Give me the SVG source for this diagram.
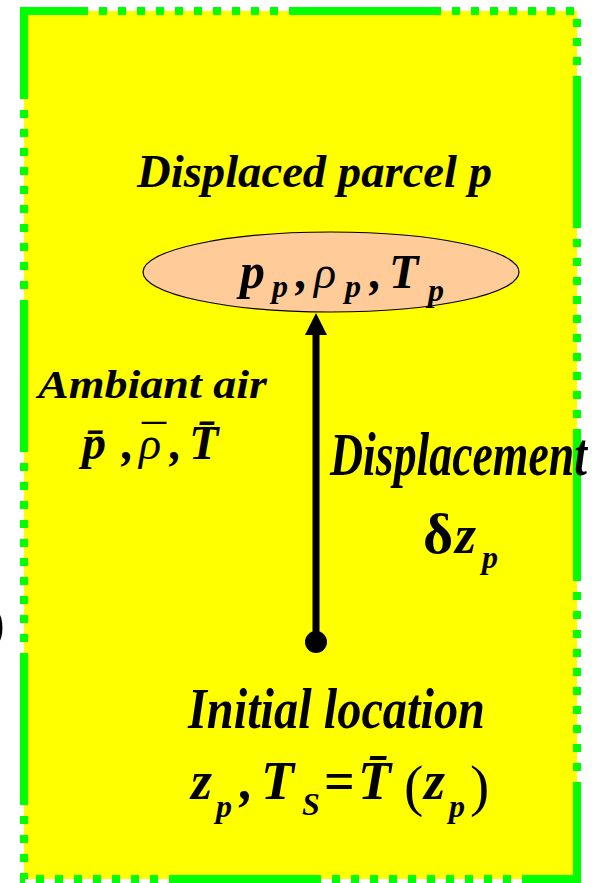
<svg xmlns="http://www.w3.org/2000/svg" width="604" height="883" viewBox="0 0 604 883">
<style>
.t{font-family:"Liberation Serif","Times New Roman",serif;font-weight:bold;font-style:italic;fill:#000}
.g{font-family:"Liberation Serif","DejaVu Serif",serif;font-weight:normal;font-style:italic;fill:#000}
.u{font-family:"Liberation Serif","DejaVu Serif",serif;font-weight:normal;font-style:normal;fill:#000}
.ub{font-family:"Liberation Serif","DejaVu Serif",serif;font-weight:bold;font-style:normal;fill:#000}
</style>
<rect x="0" y="0" width="604" height="883" fill="#fff"/>
<g id="frame">
<rect x="24" y="11" width="553" height="868" fill="#ffff00"/>
<path d="M24,879 V11 H577 V879 Z" fill="none" stroke="#00ff00" stroke-width="8" stroke-linecap="butt" stroke-dasharray="152 11 8 11 8 11 8 11 8 11 8 11 8 11 8 11 8 11 8 11 8 11" stroke-dashoffset="279"/>
</g>
<g id="parcel">
<text class="t" x="137" y="187" font-size="47" textLength="355" lengthAdjust="spacingAndGlyphs">Displaced parcel p</text>
<ellipse cx="331" cy="272" rx="188" ry="40" fill="#ffcc99" stroke="#000" stroke-width="1.2"/>
<text class="t"><tspan x="240" y="288" font-size="50">p</tspan><tspan x="272" y="297" font-size="32">p</tspan><tspan x="296" y="288" font-size="48">,</tspan><tspan class="g" x="314" y="288" font-size="46">ρ</tspan><tspan x="345" y="297" font-size="32">p</tspan><tspan x="370" y="288" font-size="48">,</tspan><tspan x="389" y="288" font-size="48">T</tspan><tspan x="428" y="301" font-size="32">p</tspan></text>
</g>
<g id="ambient">
<text class="t" x="38" y="398" font-size="41" textLength="229" lengthAdjust="spacingAndGlyphs">Ambiant air</text>
<text class="t" font-size="48"><tspan x="82" y="459">p̄</tspan><tspan x="122" y="459">,</tspan><tspan class="g" x="139" y="459" font-size="46">ρ</tspan><tspan class="u" x="142" y="459" font-size="48">¯</tspan><tspan x="170" y="459">,</tspan><tspan x="189" y="459">T̄</tspan></text>
</g>
<g id="displacement">
<text class="t" x="330" y="475" font-size="61" textLength="257" lengthAdjust="spacingAndGlyphs">Displacement</text>
<text class="t"><tspan class="ub" x="423" y="553" font-size="58">δ</tspan><tspan x="455" y="553" font-size="54">z</tspan><tspan x="482" y="568" font-size="32">p</tspan></text>
</g>
<g id="initial">
<text class="t" x="188" y="728" font-size="56" textLength="297" lengthAdjust="spacingAndGlyphs">Initial location</text>
<text class="t"><tspan x="191" y="799" font-size="54">z</tspan><tspan x="216" y="817" font-size="32">p</tspan><tspan x="240" y="799" font-size="54">,</tspan><tspan x="261" y="799" font-size="54">T</tspan><tspan x="302" y="815" font-size="32">S</tspan><tspan class="ub" x="324" y="799" font-size="54">=</tspan><tspan x="358" y="799" font-size="54">T̄</tspan><tspan class="u" x="404" y="805" font-size="58">(</tspan><tspan x="424" y="799" font-size="54">z</tspan><tspan x="449" y="817" font-size="32">p</tspan><tspan class="u" x="470" y="805" font-size="58">)</tspan></text>
</g>
<g id="stray">
<text class="u" x="-12" y="640" font-size="50">)</text>
</g>
<g id="connectors">
<line x1="316" y1="642" x2="316" y2="335" stroke="#000" stroke-width="7"/>
<polygon points="316,313 305,335 327,335" fill="#000"/>
<circle cx="316" cy="642" r="11" fill="#000"/>
</g>
</svg>
